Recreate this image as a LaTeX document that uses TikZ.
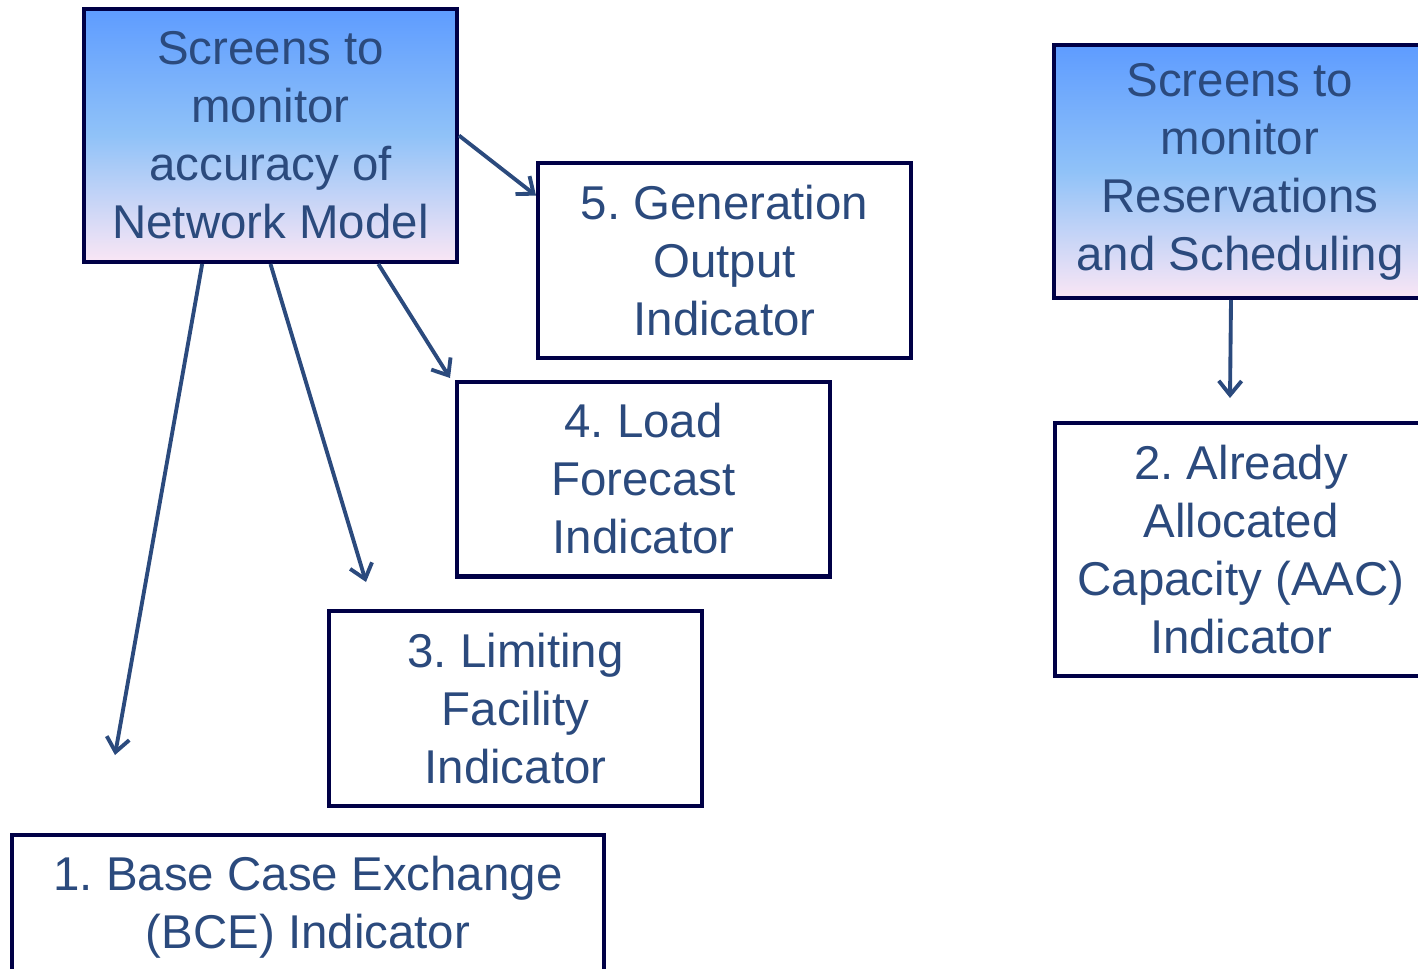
\documentclass[tikz,border=0pt]{standalone}
\usepackage{fontspec}
\setmainfont{Liberation Sans}
\frenchspacing
\usetikzlibrary{arrows.meta}
\definecolor{boxline}{HTML}{000046}
\definecolor{textblue}{HTML}{2B4A7D}
\definecolor{shadetop}{HTML}{5E9CFF}
\definecolor{shademid}{HTML}{90C2F8}
\definecolor{shadebot}{HTML}{FAE6F5}
\begin{document}
\begin{tikzpicture}
          [x=0.02cm,y=-0.02cm,every node/.style={draw=boxline, line width=2.3pt, rectangle, inner sep=0pt, minimum width=7.46cm, minimum height=3.9cm, align=center, text=textblue, font=\fontsize{27}{33}\selectfont},
           screen/.style={minimum height=5.06cm, top color=shadetop, bottom color=shadebot, middle color=shademid}]
        \useasboundingbox (0,0) rectangle (1418,968);
        \node[screen] (m1) at (270.5,135.5) {Screens to \\ monitor \\ accuracy of \\ Network Model};
        \node[screen] (m2) at (1240,171.5) {Screens to \\ monitor \\ Reservations \\ and Scheduling};
        \node (i5) at (724.5,260.5) {5. Generation \\ Output \\ Indicator};
        \node (i4) at (643.5,479) {4. Load \\ Forecast \\ Indicator};
        \node (i3) at (515.5,708.5) {3. Limiting \\ Facility \\ Indicator};
        \node[minimum height=5.06cm] (i2) at (1241,549.5) {2. Already \\ Allocated \\ Capacity (AAC) \\ Indicator};
        \node[minimum width=11.84cm, minimum height=2.9cm] (i1) at (308,907.5) {1. Base Case Exchange \\ (BCE) Indicator};
        \coordinate (e1) at (115,755);
        \coordinate (e3) at (366,582);
        \coordinate (e4) at (450,378);
        \coordinate (e2) at (1230,398);

      \foreach \from/\to in {m1.-118/e1, m1.south/e3, m1.-50/e4, m1.east/i5.161, m2.-94/e2}
        \draw[textblue, line width=2.2pt, -{Straight Barb[length=8pt,width=13pt]}] (\from) -- (\to);
      \end{tikzpicture}
\end{document}
